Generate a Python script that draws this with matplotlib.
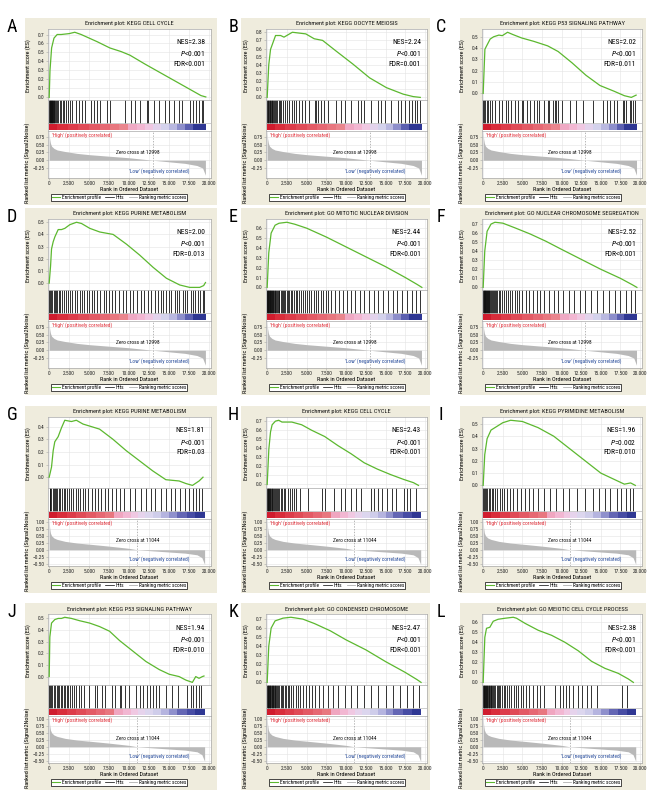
import matplotlib
matplotlib.use('Agg')
import matplotlib.pyplot as plt
from matplotlib import font_manager as fm
from matplotlib.patches import Rectangle
from matplotlib.lines import Line2D
from matplotlib.ticker import MultipleLocator, FuncFormatter

# ---------------- data ----------------
letters = ['A', 'B', 'C', 'D', 'E', 'F', 'G', 'H', 'I', 'J', 'K', 'L']
titles = ['KEGG CELL CYCLE', 'KEGG OOCYTE MEIOSIS', 'KEGG P53 SIGNALING PATHWAY',
          'KEGG PURINE METABOLISM', 'GO MITOTIC NUCLEAR DIVISION', 'GO NUCLEAR CHROMOSOME SEGREGATION',
          'KEGG PURINE METABOLISM', 'KEGG CELL CYCLE', 'KEGG PYRIMIDINE METABOLISM',
          'KEGG P53 SIGNALING PATHWAY', 'GO CONDENSED CHROMOSOME', 'GO MEIOTIC CELL CYCLE PROCESS']
nes = ['2.38', '2.24', '2.02', '2.00', '2.44', '2.52', '1.81', '2.43', '1.96', '1.94', '2.47', '2.38']
pval = ['<0.001', '<0.001', '<0.001', '<0.001', '<0.001', '<0.001',
        '<0.001', '<0.001', '=0.002', '<0.001', '<0.001', '<0.001']
fdr = ['<0.001', '=0.001', '=0.011', '=0.013', '<0.001', '<0.001',
       '=0.03', '<0.001', '=0.010', '=0.010', '<0.001', '<0.001']
zero_cross = [12998, 12998, 12998, 12998, 12998, 12998, 11044, 11044, 11044, 11044, 11044, 11044]

A_es_rank = [0, 100, 300, 600, 1000, 1500, 2000, 2500, 3200, 4000, 5000, 6000, 7600, 9000, 10100, 12000, 14000, 16000, 18000, 19000, 19600]
A_es = [0, 0.30, 0.55, 0.66, 0.70, 0.70, 0.705, 0.71, 0.725, 0.70, 0.66, 0.62, 0.55, 0.51, 0.47, 0.37, 0.27, 0.17, 0.07, 0.02, 0.005]
B_es_rank = [0, 200, 425, 1060, 1700, 2130, 3190, 4890, 5960, 7020, 8720, 10850, 12980, 15100, 17230, 18500, 19400]
B_es = [0, 0.40, 0.59, 0.76, 0.76, 0.74, 0.80, 0.78, 0.72, 0.70, 0.57, 0.41, 0.24, 0.12, 0.04, 0.01, 0.0]
C_es_rank = [0, 220, 440, 890, 1330, 2000, 2440, 3110, 3780, 4890, 6440, 8220, 9560, 11330, 13110, 14890, 16670, 18000, 18890, 19500]
C_es = [0, 0.39, 0.42, 0.48, 0.50, 0.515, 0.51, 0.54, 0.52, 0.49, 0.46, 0.42, 0.37, 0.27, 0.16, 0.07, 0.02, -0.02, -0.035, -0.015]
D_es_rank = [0, 170, 290, 500, 710, 1125, 1540, 1960, 2580, 3420, 4040, 5080, 6330, 8000, 9670, 11330, 13000, 14670, 16330, 17580, 18830, 19330, 19560]
D_es = [0, 0.14, 0.28, 0.34, 0.38, 0.44, 0.44, 0.45, 0.48, 0.50, 0.49, 0.45, 0.42, 0.40, 0.32, 0.23, 0.13, 0.04, -0.015, -0.035, -0.035, -0.02, 0.005]
E_es_rank = [0, 200, 500, 1000, 1500, 2500, 3500, 5000, 7500, 10000, 12500, 15000, 17500, 19000, 19600]
E_es = [0, 0.35, 0.55, 0.63, 0.65, 0.66, 0.64, 0.60, 0.51, 0.41, 0.31, 0.21, 0.10, 0.03, 0.0]
F_es_rank = [0, 200, 500, 1000, 1500, 2500, 4000, 6000, 8000, 10000, 12500, 15000, 17500, 19000, 19600]
F_es = [0, 0.40, 0.62, 0.70, 0.72, 0.71, 0.66, 0.59, 0.51, 0.42, 0.31, 0.20, 0.10, 0.03, 0.0]
G_es_rank = [0, 290, 500, 700, 1120, 1535, 1950, 2780, 3400, 4230, 5270, 6300, 7970, 9630, 11290, 12950, 14600, 16260, 17100, 17930, 18760, 19250]
G_es = [0, 0.08, 0.21, 0.28, 0.32, 0.39, 0.45, 0.44, 0.45, 0.42, 0.40, 0.38, 0.30, 0.21, 0.13, 0.05, -0.02, -0.03, -0.05, -0.065, -0.03, 0.0]
H_es_rank = [0, 210, 420, 625, 1040, 1460, 1875, 3125, 4375, 5625, 7290, 8960, 10625, 12290, 13960, 15625, 17290, 18540, 19170]
H_es = [0, 0.39, 0.58, 0.66, 0.70, 0.71, 0.69, 0.69, 0.66, 0.60, 0.53, 0.43, 0.34, 0.24, 0.17, 0.11, 0.056, 0.02, -0.01]
I_es_rank = [0, 200, 500, 1000, 1500, 2500, 3500, 5000, 7000, 9000, 11000, 13000, 15000, 17000, 18000, 18800, 19400]
I_es = [0, 0.25, 0.38, 0.45, 0.47, 0.51, 0.53, 0.52, 0.47, 0.40, 0.30, 0.20, 0.10, 0.04, 0.01, 0.02, 0.0]
J_es_rank = [0, 80, 290, 700, 1120, 1535, 1950, 2780, 3820, 5060, 6300, 7550, 8800, 10450, 12100, 13780, 15020, 16260, 17100, 17920, 18340, 18750, 19170, 19370]
J_es = [0, 0.34, 0.46, 0.49, 0.50, 0.50, 0.51, 0.50, 0.48, 0.46, 0.43, 0.39, 0.31, 0.22, 0.13, 0.06, 0.02, 0.0, -0.03, -0.05, 0.0, -0.015, 0.0, 0.005]
K_es_rank = [0, 200, 500, 1000, 2000, 3000, 4500, 6000, 8000, 10000, 12500, 15000, 17500, 19000, 19500]
K_es = [0, 0.40, 0.60, 0.68, 0.71, 0.72, 0.70, 0.65, 0.57, 0.47, 0.36, 0.23, 0.11, 0.03, 0.0]
L_es_rank = [0, 210, 425, 850, 1280, 1910, 2770, 3830, 4260, 5320, 7020, 8720, 10430, 12130, 13830, 15530, 17230, 18510, 19150]
L_es = [0, 0.45, 0.54, 0.55, 0.61, 0.63, 0.64, 0.65, 0.64, 0.59, 0.52, 0.47, 0.40, 0.315, 0.21, 0.14, 0.09, 0.034, 0.0]

A_hits = [20, 60, 100, 140, 180, 220, 260, 300, 350, 400, 450, 500, 560, 650, 750, 850, 1000, 1150, 1300, 1500, 1700, 1900, 2100, 2300, 2600, 2900, 3300, 3700, 4100, 4500, 5200, 5600, 6000, 6400, 7200, 7600, 9500, 10300, 10800, 11400, 12200, 12400, 13100, 13800, 14500, 15000, 15600, 16200, 16600, 17600, 18000, 18400, 18800, 19100, 19300]
B_hits = [30, 90, 150, 220, 300, 380, 470, 560, 650, 760, 880, 1000, 1150, 1300, 1450, 1600, 1800, 2000, 2250, 2500, 2800, 3100, 3400, 3700, 4000, 4400, 4800, 5300, 6000, 6200, 6500, 6800, 7200, 7700, 8700, 9300, 9900, 10600, 11500, 11900, 12300, 13200, 14000, 14400, 14900, 15700, 16600, 17000, 17400, 18000, 18300, 18700, 19000, 19300]
C_hits = [20, 100, 200, 440, 670, 890, 1110, 1560, 2000, 2440, 2890, 3110, 3560, 4000, 4440, 4890, 5110, 5560, 6000, 6440, 6890, 7110, 7780, 8220, 8440, 8890, 9110, 9330, 9560, 10000, 11110, 11780, 12670, 14000, 15330, 15780, 16220, 16670, 17110, 17780, 18000, 18220, 18670, 18890, 19110, 19330]
D_hits = [30, 120, 250, 400, 550, 700, 850, 1000, 1200, 1400, 1650, 1900, 2100, 2350, 2600, 2900, 3200, 3500, 3800, 4100, 4400, 4700, 5000, 5300, 5600, 6000, 6400, 6800, 7100, 7500, 7900, 8200, 8700, 9200, 9600, 10100, 10500, 11000, 11500, 11900, 12400, 12800, 13200, 13600, 14000, 14300, 14600, 15000, 15300, 15700, 16000, 16300, 16700, 17000, 17300, 17700, 18000, 18300, 18600, 18900, 19200, 19400]
E_hits = [10, 40, 80, 120, 160, 200, 250, 300, 350, 400, 460, 520, 580, 650, 720, 800, 880, 960, 1050, 1150, 1250, 1350, 1450, 1550, 1700, 1850, 2000, 2150, 2300, 2450, 2600, 2800, 3000, 3200, 3400, 3600, 3800, 4000, 4250, 4500, 4750, 5000, 5300, 5600, 5900, 6200, 6500, 6800, 7100, 7400, 7700, 8100, 8600, 9100, 9600, 10100, 10600, 11100, 11700, 12300, 12900, 13500, 14100, 14700, 15300, 15900, 16500, 17100, 17700, 18300, 18900, 19300]
F_hits = [10, 50, 90, 130, 170, 220, 270, 320, 380, 440, 500, 570, 640, 720, 800, 900, 1000, 1100, 1200, 1350, 1500, 1650, 1800, 2000, 2200, 2400, 2650, 2900, 3150, 3400, 3700, 4000, 4300, 4600, 5000, 5400, 5800, 6300, 6800, 7300, 7800, 8400, 9000, 9600, 10200, 10900, 11600, 12300, 13000, 13800, 14500, 15300, 16100, 16800, 17500, 18200, 18800, 19300]
G_hits = [40, 150, 280, 420, 560, 700, 850, 1000, 1200, 1400, 1600, 1800, 2000, 2250, 2500, 2750, 3000, 3300, 3600, 3900, 4200, 4500, 4900, 5300, 5700, 6100, 6500, 7000, 7400, 7900, 8400, 8900, 9400, 10100, 10800, 11500, 12100, 12700, 13300, 14000, 14600, 15200, 15800, 16400, 17000, 17500, 18000, 18400, 18800, 19100]
H_hits = [10, 50, 100, 160, 220, 280, 350, 420, 500, 580, 660, 750, 850, 950, 1100, 1250, 1400, 1550, 1700, 1900, 2100, 2300, 2600, 2900, 3100, 3400, 3700, 4200, 5200, 6900, 7300, 8500, 9400, 9800, 10600, 11200, 11900, 13100, 13500, 14000, 14600, 15200, 15800, 16300, 17300, 17700, 18100, 18800]
I_hits = [30, 120, 250, 400, 550, 700, 900, 1100, 1300, 1550, 1800, 2100, 2400, 2700, 3000, 3400, 3800, 4300, 4800, 5300, 5800, 6300, 7000, 7700, 8500, 9300, 10200, 11000, 12000, 13000, 14000, 14800, 15500, 16200, 17000, 17600, 18200, 18700, 19100]
J_hits = [20, 120, 250, 400, 580, 750, 920, 1080, 1250, 1450, 1620, 1830, 2000, 2200, 2400, 2650, 2900, 3150, 3400, 3700, 4000, 4400, 5000, 5700, 6000, 6600, 7000, 7800, 8200, 8800, 9000, 9500, 10000, 10900, 11400, 11800, 12200, 12600, 13000, 13400, 13800, 14600, 15400, 16100, 17300, 17700, 18000, 18400, 18800, 19000]
K_hits = [10, 50, 90, 140, 190, 240, 300, 360, 420, 480, 550, 620, 700, 780, 860, 950, 1050, 1150, 1250, 1400, 1550, 1700, 1850, 2000, 2200, 2400, 2600, 2800, 3000, 3300, 3600, 3900, 4200, 4500, 4900, 5300, 5700, 6100, 6600, 7100, 7700, 8300, 9000, 9800, 10600, 11400, 12300, 13200, 14100, 15000, 15900, 16800, 17700, 18500, 19200]
L_hits = [10, 50, 100, 150, 200, 260, 320, 380, 450, 520, 600, 680, 770, 860, 960, 1060, 1170, 1280, 1400, 1550, 1700, 1850, 2000, 2200, 2400, 2600, 2800, 3000, 3300, 3600, 3900, 4200, 4500, 4800, 5100, 5500, 5900, 6300, 6800, 7300, 7800, 9100, 9800, 10200, 10600, 10900, 11500, 12100, 12600, 13200, 13800, 14500, 17700, 18300]

# ranked list metric (two datasets)
rank1_x = [0, 50, 150, 300, 600, 1000, 2000, 3500, 5000, 7500, 10000, 12998, 15000, 17000, 18500, 19200, 19550]
rank1_y = [0.92, 0.70, 0.55, 0.45, 0.38, 0.33, 0.28, 0.22, 0.18, 0.13, 0.08, 0.0, -0.05, -0.10, -0.17, -0.25, -0.48]
rank2_x = [0, 50, 150, 300, 600, 1000, 2000, 3500, 5000, 7500, 10000, 11044, 13000, 15000, 17000, 18500, 19100, 19450]
rank2_y = [1.08, 0.80, 0.60, 0.50, 0.42, 0.37, 0.30, 0.24, 0.20, 0.13, 0.05, 0.0, -0.04, -0.08, -0.12, -0.18, -0.28, -0.52]

# colour bar blocks (two datasets)
cb1_edges = [0, 1000, 2300, 3600, 5000, 6300, 7600, 8700, 9800, 11000, 12000, 13000, 14000, 15000, 16000, 17000, 18000, 19600]
cb2_edges = [0, 1000, 2200, 3400, 4600, 5800, 7000, 8100, 9200, 10300, 11100, 12000, 13000, 14000, 15000, 16000, 17200, 18300, 19500]
cb1_colors = ['#d01c2e', '#d92d3b', '#dd3c4a', '#e04b57', '#e35a65', '#e66873', '#e8777f', '#ea858d',
              '#efa9c4', '#f2b7d2', '#f0c8e2', '#e3d3ec', '#d4d2ec', '#b9b8e0', '#8d8ecb', '#5b5fb0', '#2f3793']
cb2_colors = ['#d01c2e', '#d92d3b', '#dd3c4a', '#e04b57', '#e35a65', '#e66873', '#e8777f', '#f0a6c0',
              '#f2b7d2', '#f0c8e2', '#e6d3ec', '#dcd6ee', '#cfcdea', '#b5b4df', '#8f90cc', '#6466b4', '#474ca4', '#2f3793']

es_ranks = [A_es_rank, B_es_rank, C_es_rank, D_es_rank, E_es_rank, F_es_rank,
            G_es_rank, H_es_rank, I_es_rank, J_es_rank, K_es_rank, L_es_rank]
es_vals = [A_es, B_es, C_es, D_es, E_es, F_es, G_es, H_es, I_es, J_es, K_es, L_es]
hits = [A_hits, B_hits, C_hits, D_hits, E_hits, F_hits, G_hits, H_hits, I_hits, J_hits, K_hits, L_hits]

# ---------------- fonts ----------------
def pick_font():
    names = {f.name for f in fm.fontManager.ttflist}
    for cand in ['Liberation Sans Narrow', 'Roboto Condensed', 'Open Sans Condensed',
                 'Noto Sans Condensed', 'DejaVu Sans Condensed']:
        if cand in names:
            return cand, 'normal', True
    for fam in ['Noto Sans', 'Open Sans', 'DejaVu Sans', 'Roboto']:
        for f in fm.fontManager.ttflist:
            if f.name == fam and str(f.stretch) in ('condensed', 'semi-condensed', 'extra-condensed') \
                    and f.style == 'normal':
                return fam, str(f.stretch), True
    return 'DejaVu Sans', 'normal', False

FONT, STRETCH, NARROW = pick_font()
plt.rcParams['font.family'] = [FONT, 'DejaVu Sans']
plt.rcParams['font.stretch'] = STRETCH
plt.rcParams['mathtext.fontset'] = 'custom'
plt.rcParams['mathtext.it'] = FONT + ':italic'
plt.rcParams['mathtext.rm'] = FONT
k = 1.0 if NARROW else 0.82
FS_TITLE = 4.6 * k
FS_TICK = 3.9 * k
FS_LAB = 4.4 * k
FS_STAT = 5.4 * k
FS_NOTE = 4.0 * k
FS_LEG = 3.9 * k
FS_LETTER = 13

# ---------------- layout ----------------
W, H = 670, 810
fig = plt.figure(figsize=(6.7, 8.1), dpi=100)
fig.patch.set_facecolor('white')

def rect(l, t, r, b):
    return [l / W, 1 - b / H, (r - l) / W, (b - t) / H]

def fx(x):
    return x / W

def fy(y):
    return 1 - y / H

col_axes = [(48, 211), (266, 427), (482, 642)]
col_frame = [(25, 217), (241, 430), (460, 646)]
row_top = [24, 214, 412, 609]
letter_x = [12, 233, 441]

GREEN = '#5cb82f'
SPINE = '#a8a8a8'
GRID = '#e4e4e4'

xfmt = FuncFormatter(lambda v, p: f"{int(round(v)):,}".replace(',', '.'))
rfmt = FuncFormatter(lambda v, p: f"{v:.2f}".replace('-', '\u2212'))
efmt = FuncFormatter(lambda v, p: f"{v:.1f}".replace('-', '\u2212'))

def style_axes(ax):
    for s in ax.spines.values():
        s.set_color(SPINE)
        s.set_linewidth(0.5)
    ax.tick_params(length=1.2, width=0.4, color=SPINE, pad=1.2, labelsize=FS_TICK, colors='#222222')
    ax.set_facecolor('white')

for i in range(12):
    r, c = divmod(i, 3)
    T = row_top[r]
    L, R = col_axes[c]
    FL, FR = col_frame[c]
    # beige frame
    fig.patches.append(Rectangle((fx(FL), fy(T + 181)), (FR - FL) / W, (181 + 6) / H,
                                 transform=fig.transFigure, facecolor='#efecdd', edgecolor='none',
                                 zorder=-10))
    fig.text(fx(letter_x[c]), fy(T + 3), letters[i], fontsize=FS_LETTER, ha='center', va='center')
    fig.text(fx((L + R) / 2), fy(T), 'Enrichment plot: ' + titles[i], fontsize=FS_TITLE,
             ha='center', va='center', color='#111111')

    xlim = (-150, 20250)
    # ES axes
    ax_es = fig.add_axes(rect(L, T + 5, R, T + 76))
    style_axes(ax_es)
    ax_es.plot(es_ranks[i], es_vals[i], color=GREEN, lw=0.9, zorder=3)
    lo = min(min(es_vals[i]), 0.0)
    hi = max(es_vals[i])
    rng = hi - lo
    ax_es.set_ylim(lo - 0.04 * rng, hi + 0.05 * rng)
    ax_es.set_xlim(*xlim)
    ax_es.xaxis.set_major_locator(MultipleLocator(2500))
    ax_es.yaxis.set_major_locator(MultipleLocator(0.1))
    ax_es.yaxis.set_major_formatter(efmt)
    ax_es.tick_params(axis='x', labelbottom=False, length=0)
    ax_es.grid(True, color=GRID, lw=0.4)
    ax_es.set_axisbelow(True)

    # hits + colour bar
    ax_h = fig.add_axes(rect(L, T + 76, R, T + 107))
    style_axes(ax_h)
    ax_h.set_xlim(*xlim)
    ax_h.set_ylim(0, 1)
    ax_h.set_xticks([])
    ax_h.set_yticks([])
    ax_h.vlines(hits[i], 0.27, 1.0, color='#111111', lw=0.6)
    edges = cb1_edges if r < 2 else cb2_edges
    cols = cb1_colors if r < 2 else cb2_colors
    ax_h.bar(edges[:-1], 0.2, width=[b - a for a, b in zip(edges[:-1], edges[1:])],
             bottom=0.04, align='edge', color=cols, lw=0)
    ax_h.axhline(0.25, color=SPINE, lw=0.4)

    # ranked list metric
    ax_r = fig.add_axes(rect(L, T + 107, R, T + 154))
    style_axes(ax_r)
    rx = rank1_x if r < 2 else rank2_x
    ry = rank1_y if r < 2 else rank2_y
    ax_r.fill_between(rx, ry, 0, color='#b9b9b9', lw=0, zorder=2)
    ax_r.set_xlim(*xlim)
    if r < 2:
        ax_r.set_ylim(-0.57, 0.94)
        ax_r.set_yticks([-0.25, 0, 0.25, 0.5, 0.75])
    else:
        ax_r.set_ylim(-0.58, 1.1)
        ax_r.set_yticks([-0.5, -0.25, 0, 0.25, 0.5, 0.75, 1.0])
    ax_r.yaxis.set_major_formatter(rfmt)
    ax_r.xaxis.set_major_locator(MultipleLocator(2500))
    ax_r.xaxis.set_major_formatter(xfmt)
    ax_r.grid(True, color=GRID, lw=0.4)
    ax_r.set_axisbelow(True)
    ax_r.axvline(zero_cross[i], color='#9a9a9a', lw=0.5, ls=(0, (2, 2)), zorder=3)
    ax_r.set_xlabel('Rank in Ordered Dataset', fontsize=FS_LAB, labelpad=0.5)

    # annotations
    fig.text(fx(L + 4), fy(T + 111), "'High' (positively correlated)", fontsize=FS_NOTE,
             color='#e0303a', ha='left', va='center')
    fig.text(fx(L + 0.55 * (R - L)), fy(T + 129), 'Zero cross at %d' % zero_cross[i],
             fontsize=FS_NOTE, ha='center', va='center', color='#111111')
    fig.text(fx(L + 0.68 * (R - L)), fy(T + 147), "'Low' (negatively correlated)", fontsize=FS_NOTE,
             color='#2a4e9c', ha='center', va='center')
    fig.text(fx(R - 6), fy(T + 19), 'NES=' + nes[i], fontsize=FS_STAT, ha='right', va='center')
    fig.text(fx(R - 6), fy(T + 30), r'$\mathit{P}$' + pval[i], fontsize=FS_STAT, ha='right', va='center')
    fig.text(fx(R - 6), fy(T + 41), 'FDR' + fdr[i], fontsize=FS_STAT, ha='right', va='center')

    fig.text(fx(L - 20), fy(T + 42), 'Enrichment score (ES)', fontsize=FS_LAB, rotation=90,
             ha='center', va='center')
    fig.text(fx(L - 21), fy(T + 139), 'Ranked list metric (Signal2Noise)', fontsize=FS_LAB,
             rotation=90, ha='center', va='center')

    handles = [Line2D([], [], color=GREEN, lw=0.8), Line2D([], [], color='black', lw=0.5),
               Line2D([], [], color='#b0b0b0', lw=0.6)]
    leg = fig.legend(handles, ['Enrichment profile', 'Hits', 'Ranking metric scores'],
                     loc='upper center', bbox_to_anchor=(fx(L + 71), fy(T + 169.5)),
                     bbox_transform=fig.transFigure, ncol=3, fontsize=FS_LEG, frameon=True,
                     fancybox=False, edgecolor='black', framealpha=1, borderpad=0.15,
                     handlelength=1.6, handletextpad=0.3, columnspacing=0.8, borderaxespad=0)
    leg.get_frame().set_linewidth(0.5)

fig.savefig('out.png', dpi=100, facecolor='white')
